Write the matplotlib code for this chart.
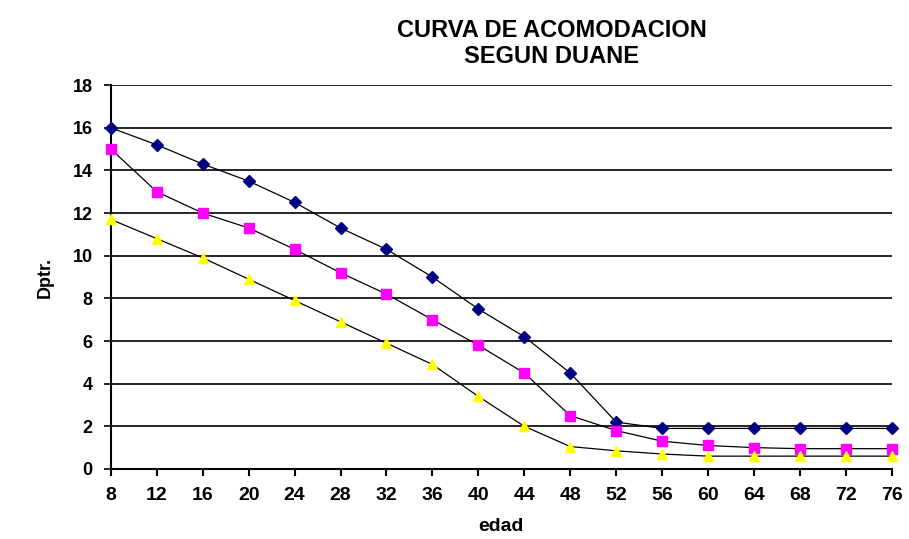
import matplotlib
matplotlib.use("Agg")
import matplotlib.pyplot as plt
from matplotlib import font_manager

edad = [8, 12, 16, 20, 24, 28, 32, 36, 40, 44, 48, 52, 56, 60, 64, 68, 72, 76]
maxima = [16.0, 15.2, 14.3, 13.5, 12.5, 11.3, 10.3, 9.0, 7.5, 6.2, 4.5, 2.2, 1.9, 1.9, 1.9, 1.9, 1.9, 1.9]
media = [15.0, 13.0, 12.0, 11.3, 10.3, 9.2, 8.2, 7.0, 5.8, 4.5, 2.5, 1.8, 1.3, 1.1, 1.0, 0.95, 0.95, 0.95]
minima = [11.7, 10.8, 9.9, 8.9, 7.9, 6.9, 5.9, 4.9, 3.4, 2.0, 1.05, 0.85, 0.7, 0.6, 0.6, 0.6, 0.6, 0.6]
yticks = [0, 2, 4, 6, 8, 10, 12, 14, 16, 18]

names = {f.name for f in font_manager.fontManager.ttflist}
fam = ['Liberation Sans Narrow', 'DejaVu Sans'] if 'Liberation Sans Narrow' in names else ['Liberation Sans', 'DejaVu Sans']
plt.rcParams['font.family'] = fam

fig = plt.figure(figsize=(9.09, 5.39), dpi=100)
ax = fig.add_axes([0.122, 0.13, 0.859, 0.712])

pos = list(range(len(edad)))
ax.plot(pos, maxima, color='black', lw=0.9, marker='D', ms=6.5, mfc='#000080', mec='#000080', zorder=3)
ax.plot(pos, media, color='black', lw=0.9, marker='s', ms=7, mfc='#FF00FF', mec='#FF00FF', zorder=3)
ax.plot(pos, minima, color='black', lw=0.9, marker='^', ms=7.5, mfc='#FFFF00', mec='#FFFF00', zorder=3)

ax.set_xlim(0, len(edad) - 1)
ax.set_ylim(0, 18)
ax.set_xticks(pos)
ax.set_xticklabels([str(e) for e in edad])
ax.set_yticks(yticks)
ax.yaxis.grid(True, color='black', lw=1.2)
ax.set_axisbelow(True)
for s in ['top', 'right']:
    ax.spines[s].set_visible(False)
ax.spines['left'].set_linewidth(1.5)
ax.spines['bottom'].set_linewidth(1.5)
ax.tick_params(axis='x', direction='out', length=5, width=1.5, pad=8, labelsize=14)
ax.tick_params(axis='y', direction='out', length=5, width=1.2, pad=8, labelsize=13)
for lab in ax.get_xticklabels() + ax.get_yticklabels():
    lab.set_fontweight('bold')
ax.set_xlabel('edad', fontsize=14, fontweight='bold', labelpad=10)
ax.set_ylabel('Dptr.', fontsize=13, fontweight='bold', labelpad=14)
for l in ax.lines:
    l.set_clip_on(False)

fig.text(0.607, 0.965, 'CURVA DE ACOMODACION\nSEGUN DUANE', ha='center', va='top',
         fontsize=17, fontweight='bold', linespacing=1.15)

fig.savefig('out.png', dpi=100)
